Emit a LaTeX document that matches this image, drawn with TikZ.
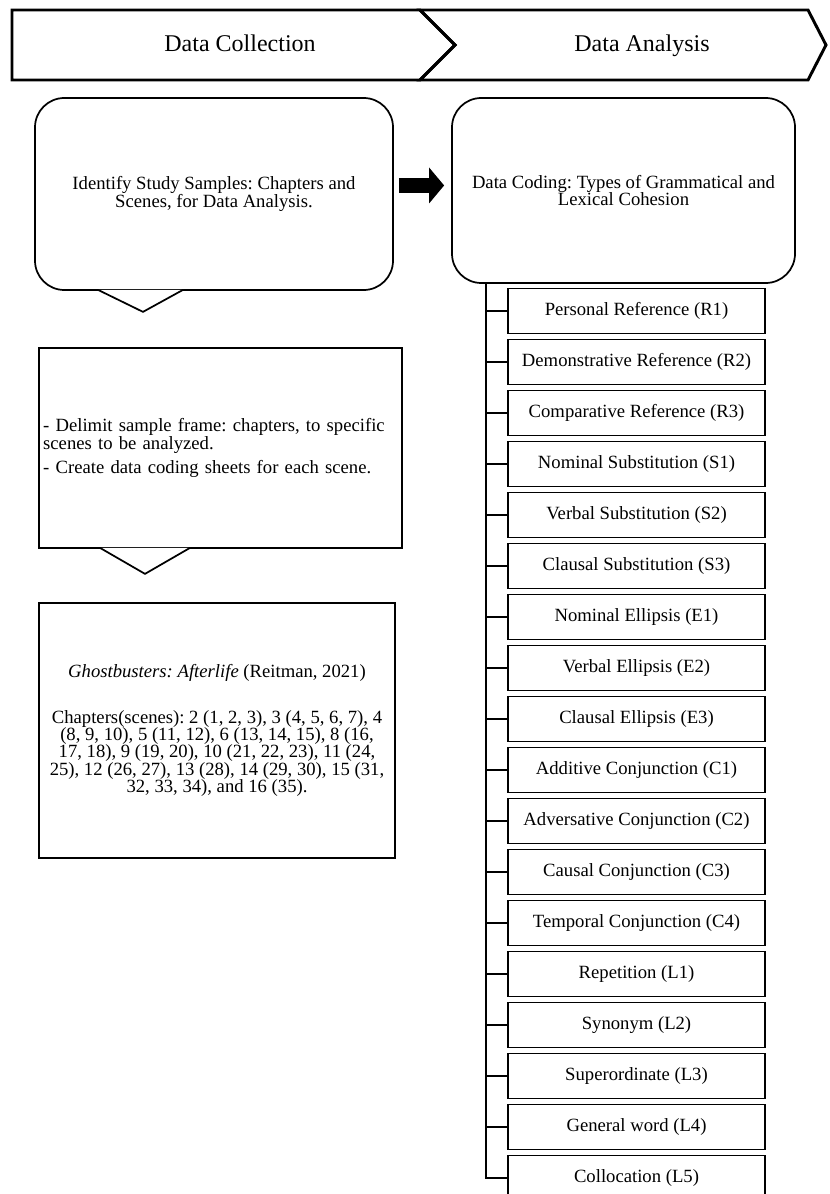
\documentclass[tikz,border=0pt]{standalone}
\usepackage{fontspec}
\setmainfont{Liberation Serif}
\usetikzlibrary{arrows.meta,positioning,calc}
\frenchspacing

\begin{document}
\begin{tikzpicture}[
  x=0.75pt, y=-0.75pt,
  font=\fontsize{14}{13}\selectfont,
  band/.style={line width=2.2pt, line join=miter},
  bandtext/.style={font=\fontsize{18}{18}\selectfont, anchor=base},
  callbox/.style={
    draw, line width=1.3pt, rounded corners=22pt, align=center, inner sep=4pt
  },
  textbox/.style={draw, line width=1.3pt, inner sep=3pt},
  itembox/.style={
    draw, line width=1.3pt, inner sep=2pt,
    minimum width=192.75pt, minimum height=33.75pt
  },
  pointer/.style={line width=1.3pt, fill=white},
  branch/.style={line width=1.3pt},
  blockarr/.style={
    line width=11.25pt, -{Triangle[length=11.25pt, width=26.25pt]},
    shorten <=3.75pt, shorten >=5.25pt
  }
]
\useasboundingbox (0,0) rectangle (829,1194);

% phase banner
\draw[band] (12,10) -- (420,10) -- (455,45) -- (420,80) -- (12,80) -- cycle;
\draw[band] (420,10) -- (808,10) -- (826,45) -- (808,80) -- (420,80) -- (455,45) -- cycle;
\node[bandtext] (collect) at (240,52) {Data Collection};
\node[bandtext] (analysis) at (642,52) {Data Analysis};

% data collection column
\node[callbox, minimum width=268.5pt, minimum height=144pt] (ident) at (214,194)
  {Identify Study Samples: Chapters and\\Scenes, for Data Analysis.};
\draw[pointer] ($(ident.south)+(-116,-1)$) -- ($(ident.south)+(-71,21)$) -- ($(ident.south)+(-31,-1)$);

\node[textbox, minimum width=272.25pt, minimum height=150pt, text width=266pt, align=left] (delim) at (220.5,448)
  {- Delimit sample frame: chapters, to specific\\scenes to be analyzed.\\[5pt]- Create data coding sheets for each scene.};
\draw[pointer] ($(delim.south)+(-120.5,-1)$) -- ($(delim.south)+(-75.5,25)$) -- ($(delim.south)+(-30.5,-1)$);

\node[textbox, minimum width=267pt, minimum height=191.25pt, align=center] (film) at (217,730.5)
  {\textit{Ghostbusters: Afterlife} (Reitman, 2021)\\[21pt]
   Chapters(scenes): 2 (1, 2, 3), 3 (4, 5, 6, 7), 4\\
   (8, 9, 10), 5 (11, 12), 6 (13, 14, 15), 8 (16,\\
   17, 18), 9 (19, 20), 10 (21, 22, 23), 11 (24,\\
   25), 12 (26, 27), 13 (28), 14 (29, 30), 15 (31,\\
   32, 33, 34), and 16 (35).};

% data analysis column
\node[callbox, minimum width=257.25pt, minimum height=138.75pt] (coding) at (623.5,190.5)
  {Data Coding: Types of Grammatical and\\Lexical Cohesion};
\draw[blockarr] ([yshift=6.4pt]ident.east) -- ([yshift=6.4pt]ident.east -| coding.west);

\node[itembox] (r1) at (636.5,311) {Personal Reference (R1)};
\node[itembox, below=3.2pt of r1] (r2) {Demonstrative Reference (R2)};
\node[itembox, below=3.2pt of r2] (r3) {Comparative Reference (R3)};
\node[itembox, below=3.2pt of r3] (s1) {Nominal Substitution (S1)};
\node[itembox, below=3.2pt of s1] (s2) {Verbal Substitution (S2)};
\node[itembox, below=3.2pt of s2] (s3) {Clausal Substitution (S3)};
\node[itembox, below=3.2pt of s3] (e1) {Nominal Ellipsis (E1)};
\node[itembox, below=3.2pt of e1] (e2) {Verbal Ellipsis (E2)};
\node[itembox, below=3.2pt of e2] (e3) {Clausal Ellipsis (E3)};
\node[itembox, below=3.2pt of e3] (c1) {Additive Conjunction (C1)};
\node[itembox, below=3.2pt of c1] (c2) {Adversative Conjunction (C2)};
\node[itembox, below=3.2pt of c2] (c3) {Causal Conjunction (C3)};
\node[itembox, below=3.2pt of c3] (c4) {Temporal Conjunction (C4)};
\node[itembox, below=3.2pt of c4] (l1) {Repetition (L1)};
\node[itembox, below=3.2pt of l1] (l2) {Synonym (L2)};
\node[itembox, below=3.2pt of l2] (l3) {Superordinate (L3)};
\node[itembox, below=3.2pt of l3] (l4) {General word (L4)};
\node[itembox, below=3.2pt of l4] (l5) {Collocation (L5)};

% tree
\coordinate (trunk) at ($(coding.south west)+(35,0)$);
\draw[branch] (trunk) |- (l5);
\draw[branch] (trunk |- r1) -- (r1);
\draw[branch] (trunk |- r2) -- (r2);
\draw[branch] (trunk |- r3) -- (r3);
\draw[branch] (trunk |- s1) -- (s1);
\draw[branch] (trunk |- s2) -- (s2);
\draw[branch] (trunk |- s3) -- (s3);
\draw[branch] (trunk |- e1) -- (e1);
\draw[branch] (trunk |- e2) -- (e2);
\draw[branch] (trunk |- e3) -- (e3);
\draw[branch] (trunk |- c1) -- (c1);
\draw[branch] (trunk |- c2) -- (c2);
\draw[branch] (trunk |- c3) -- (c3);
\draw[branch] (trunk |- c4) -- (c4);
\draw[branch] (trunk |- l1) -- (l1);
\draw[branch] (trunk |- l2) -- (l2);
\draw[branch] (trunk |- l3) -- (l3);
\draw[branch] (trunk |- l4) -- (l4);
\end{tikzpicture}
\end{document}
